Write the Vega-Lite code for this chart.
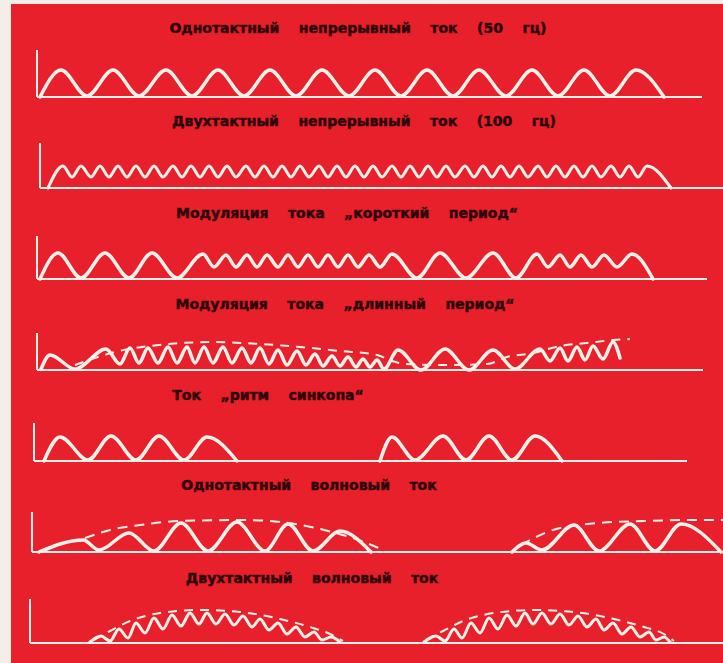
{
  "$schema": "https://vega.github.io/schema/vega-lite/v6.json",
  "background": "#f3eee6",
  "padding": {"left": 11, "top": 4, "right": 0, "bottom": 0},
  "spacing": 0,
  "bounds": "flush",
  "config": {
    "view": {"fill": "#e8202b", "stroke": null},
    "axis": {"disable": true},
    "text": {"font": "DejaVu Sans", "fontWeight": "bold", "fontSize": 14, "color": "#2e0609", "stroke": "#2e0609", "strokeWidth": 0.5, "align": "center", "baseline": "middle"}
  },
  "vconcat": [
    {
      "width": 712, "height": 102,
      "data": {"values": [
        {"t":40,"v":0,"k":"w","g":1},{"t":61,"v":27,"k":"w","g":1},{"t":87,"v":1,"k":"w","g":1},{"t":113,"v":27,"k":"w","g":1},
        {"t":139,"v":1,"k":"w","g":1},{"t":166,"v":27,"k":"w","g":1},{"t":192,"v":1,"k":"w","g":1},{"t":218,"v":27,"k":"w","g":1},
        {"t":244,"v":1,"k":"w","g":1},{"t":270,"v":27,"k":"w","g":1},{"t":296,"v":1,"k":"w","g":1},{"t":322,"v":27,"k":"w","g":1},
        {"t":349,"v":1,"k":"w","g":1},{"t":375,"v":27,"k":"w","g":1},{"t":401,"v":1,"k":"w","g":1},{"t":427,"v":27,"k":"w","g":1},
        {"t":453,"v":1,"k":"w","g":1},{"t":479,"v":27,"k":"w","g":1},{"t":506,"v":1,"k":"w","g":1},{"t":532,"v":27,"k":"w","g":1},
        {"t":558,"v":1,"k":"w","g":1},{"t":584,"v":27,"k":"w","g":1},{"t":610,"v":1,"k":"w","g":1},{"t":636,"v":27,"k":"w","g":1},
        {"t":664,"v":0,"k":"w","g":1}
      ]},
      "layer": [
        {"data": {"values": [{}]}, "mark": {"type": "rule", "color": "#fbf1ea", "strokeWidth": 2},
         "encoding": {"x": {"datum": 37, "type": "quantitative", "scale": {"domain": [11, 723], "nice": false, "zero": false}},
                      "y": {"datum": 0, "type": "quantitative", "scale": {"domain": [-9, 93], "nice": false, "zero": false}}, "y2": {"datum": 47}}},
        {"data": {"values": [{}]}, "mark": {"type": "rule", "color": "#fbf1ea", "strokeWidth": 2},
         "encoding": {"x": {"datum": 37, "type": "quantitative", "scale": {"domain": [11, 723], "nice": false, "zero": false}}, "x2": {"datum": 702},
                      "y": {"datum": 0, "type": "quantitative", "scale": {"domain": [-9, 93], "nice": false, "zero": false}}}},
        {"transform": [{"filter": "datum.k == 'w'"}],
         "mark": {"type": "line", "interpolate": "monotone", "color": "#fbf1ea", "strokeWidth": 3.5, "strokeCap": "round", "strokeJoin": "round"},
         "encoding": {"x": {"field": "t", "type": "quantitative", "scale": {"domain": [11, 723], "nice": false, "zero": false}},
                      "y": {"field": "v", "type": "quantitative", "scale": {"domain": [-9, 93], "nice": false, "zero": false}},
                      "detail": {"field": "g", "type": "nominal"}}},
        {"data": {"values": [{"label": "Однотактный \u00a0\u00a0 непрерывный \u00a0\u00a0 ток \u00a0\u00a0 (50 \u00a0\u00a0 гц)"}]},
         "mark": {"type": "text"},
         "encoding": {"x": {"datum": 358, "type": "quantitative", "scale": {"domain": [11, 723], "nice": false, "zero": false}},
                      "y": {"datum": 68, "type": "quantitative", "scale": {"domain": [-9, 93], "nice": false, "zero": false}},
                      "text": {"field": "label"}}}
      ]
    },
    {
      "width": 712, "height": 91,
      "data": {"values": [
        {"t":48,"v":0,"k":"w","g":1},{"t":63,"v":22,"k":"w","g":1},{"t":72,"v":11,"k":"w","g":1},{"t":81,"v":22,"k":"w","g":1},
        {"t":91,"v":11,"k":"w","g":1},{"t":100,"v":22,"k":"w","g":1},{"t":109,"v":11,"k":"w","g":1},{"t":118,"v":22,"k":"w","g":1},
        {"t":127,"v":11,"k":"w","g":1},{"t":136,"v":22,"k":"w","g":1},{"t":145,"v":11,"k":"w","g":1},{"t":154,"v":22,"k":"w","g":1},
        {"t":163,"v":11,"k":"w","g":1},{"t":173,"v":22,"k":"w","g":1},{"t":182,"v":11,"k":"w","g":1},{"t":191,"v":22,"k":"w","g":1},
        {"t":200,"v":11,"k":"w","g":1},{"t":209,"v":22,"k":"w","g":1},{"t":218,"v":11,"k":"w","g":1},{"t":227,"v":22,"k":"w","g":1},
        {"t":236,"v":11,"k":"w","g":1},{"t":246,"v":22,"k":"w","g":1},{"t":255,"v":11,"k":"w","g":1},{"t":264,"v":22,"k":"w","g":1},
        {"t":273,"v":11,"k":"w","g":1},{"t":282,"v":22,"k":"w","g":1},{"t":291,"v":11,"k":"w","g":1},{"t":300,"v":22,"k":"w","g":1},
        {"t":309,"v":11,"k":"w","g":1},{"t":319,"v":22,"k":"w","g":1},{"t":328,"v":11,"k":"w","g":1},{"t":337,"v":22,"k":"w","g":1},
        {"t":346,"v":11,"k":"w","g":1},{"t":355,"v":22,"k":"w","g":1},{"t":364,"v":11,"k":"w","g":1},{"t":373,"v":22,"k":"w","g":1},
        {"t":382,"v":11,"k":"w","g":1},{"t":392,"v":22,"k":"w","g":1},{"t":401,"v":11,"k":"w","g":1},{"t":410,"v":22,"k":"w","g":1},
        {"t":419,"v":11,"k":"w","g":1},{"t":428,"v":22,"k":"w","g":1},{"t":437,"v":11,"k":"w","g":1},{"t":446,"v":22,"k":"w","g":1},
        {"t":455,"v":11,"k":"w","g":1},{"t":465,"v":22,"k":"w","g":1},{"t":474,"v":11,"k":"w","g":1},{"t":483,"v":22,"k":"w","g":1},
        {"t":492,"v":11,"k":"w","g":1},{"t":501,"v":22,"k":"w","g":1},{"t":510,"v":11,"k":"w","g":1},{"t":519,"v":22,"k":"w","g":1},
        {"t":528,"v":11,"k":"w","g":1},{"t":538,"v":22,"k":"w","g":1},{"t":547,"v":11,"k":"w","g":1},{"t":556,"v":22,"k":"w","g":1},
        {"t":565,"v":11,"k":"w","g":1},{"t":574,"v":22,"k":"w","g":1},{"t":583,"v":11,"k":"w","g":1},{"t":592,"v":22,"k":"w","g":1},
        {"t":601,"v":11,"k":"w","g":1},{"t":611,"v":22,"k":"w","g":1},{"t":620,"v":11,"k":"w","g":1},{"t":629,"v":22,"k":"w","g":1},
        {"t":638,"v":11,"k":"w","g":1},{"t":647,"v":22,"k":"w","g":1},{"t":671,"v":0,"k":"w","g":1}
      ]},
      "layer": [
        {"data": {"values": [{}]}, "mark": {"type": "rule", "color": "#fbf1ea", "strokeWidth": 2},
         "encoding": {"x": {"datum": 40, "type": "quantitative", "scale": {"domain": [11, 723], "nice": false, "zero": false}},
                      "y": {"datum": 0, "type": "quantitative", "scale": {"domain": [-9, 82], "nice": false, "zero": false}}, "y2": {"datum": 45}}},
        {"data": {"values": [{}]}, "mark": {"type": "rule", "color": "#fbf1ea", "strokeWidth": 2},
         "encoding": {"x": {"datum": 40, "type": "quantitative", "scale": {"domain": [11, 723], "nice": false, "zero": false}}, "x2": {"datum": 723},
                      "y": {"datum": 0, "type": "quantitative", "scale": {"domain": [-9, 82], "nice": false, "zero": false}}}},
        {"transform": [{"filter": "datum.k == 'w'"}],
         "mark": {"type": "line", "interpolate": "monotone", "color": "#fbf1ea", "strokeWidth": 3, "strokeCap": "round", "strokeJoin": "round"},
         "encoding": {"x": {"field": "t", "type": "quantitative", "scale": {"domain": [11, 723], "nice": false, "zero": false}},
                      "y": {"field": "v", "type": "quantitative", "scale": {"domain": [-9, 82], "nice": false, "zero": false}},
                      "detail": {"field": "g", "type": "nominal"}}},
        {"data": {"values": [{"label": "Двухтактный \u00a0\u00a0 непрерывный \u00a0\u00a0 ток \u00a0\u00a0 (100 \u00a0\u00a0 гц)"}]},
         "mark": {"type": "text"},
         "encoding": {"x": {"datum": 364, "type": "quantitative", "scale": {"domain": [11, 723], "nice": false, "zero": false}},
                      "y": {"datum": 66, "type": "quantitative", "scale": {"domain": [-9, 82], "nice": false, "zero": false}},
                      "text": {"field": "label"}}}
      ]
    },
    {
      "width": 712, "height": 91,
      "data": {"values": [
        {"t":40,"v":0,"k":"w","g":1},{"t":58,"v":26,"k":"w","g":1},{"t":81,"v":1,"k":"w","g":1},{"t":105,"v":26,"k":"w","g":1},
        {"t":129,"v":1,"k":"w","g":1},{"t":152,"v":26,"k":"w","g":1},{"t":177,"v":1,"k":"w","g":1},{"t":203,"v":25,"k":"w","g":1},
        {"t":214,"v":12,"k":"w","g":1},{"t":226,"v":24,"k":"w","g":1},{"t":236,"v":12,"k":"w","g":1},{"t":247,"v":24,"k":"w","g":1},
        {"t":257,"v":12,"k":"w","g":1},{"t":267,"v":24,"k":"w","g":1},{"t":278,"v":12,"k":"w","g":1},{"t":288,"v":24,"k":"w","g":1},
        {"t":298,"v":12,"k":"w","g":1},{"t":308,"v":24,"k":"w","g":1},{"t":318,"v":12,"k":"w","g":1},{"t":328,"v":24,"k":"w","g":1},
        {"t":338,"v":12,"k":"w","g":1},{"t":348,"v":24,"k":"w","g":1},{"t":358,"v":12,"k":"w","g":1},{"t":369,"v":24,"k":"w","g":1},
        {"t":380,"v":12,"k":"w","g":1},{"t":392,"v":25,"k":"w","g":1},{"t":417,"v":1,"k":"w","g":1},{"t":440,"v":26,"k":"w","g":1},
        {"t":466,"v":1,"k":"w","g":1},{"t":493,"v":26,"k":"w","g":1},{"t":516,"v":1,"k":"w","g":1},{"t":537,"v":25,"k":"w","g":1},
        {"t":548,"v":12,"k":"w","g":1},{"t":560,"v":24,"k":"w","g":1},{"t":570,"v":12,"k":"w","g":1},{"t":581,"v":24,"k":"w","g":1},
        {"t":592,"v":12,"k":"w","g":1},{"t":604,"v":24,"k":"w","g":1},{"t":617,"v":12,"k":"w","g":1},{"t":632,"v":25,"k":"w","g":1},
        {"t":653,"v":0,"k":"w","g":1}
      ]},
      "layer": [
        {"data": {"values": [{}]}, "mark": {"type": "rule", "color": "#fbf1ea", "strokeWidth": 2},
         "encoding": {"x": {"datum": 37, "type": "quantitative", "scale": {"domain": [11, 723], "nice": false, "zero": false}},
                      "y": {"datum": 0, "type": "quantitative", "scale": {"domain": [-9, 82], "nice": false, "zero": false}}, "y2": {"datum": 43}}},
        {"data": {"values": [{}]}, "mark": {"type": "rule", "color": "#fbf1ea", "strokeWidth": 2},
         "encoding": {"x": {"datum": 37, "type": "quantitative", "scale": {"domain": [11, 723], "nice": false, "zero": false}}, "x2": {"datum": 707},
                      "y": {"datum": 0, "type": "quantitative", "scale": {"domain": [-9, 82], "nice": false, "zero": false}}}},
        {"transform": [{"filter": "datum.k == 'w'"}],
         "mark": {"type": "line", "interpolate": "monotone", "color": "#fbf1ea", "strokeWidth": 3.5, "strokeCap": "round", "strokeJoin": "round"},
         "encoding": {"x": {"field": "t", "type": "quantitative", "scale": {"domain": [11, 723], "nice": false, "zero": false}},
                      "y": {"field": "v", "type": "quantitative", "scale": {"domain": [-9, 82], "nice": false, "zero": false}},
                      "detail": {"field": "g", "type": "nominal"}}},
        {"data": {"values": [{"label": "Модуляция \u00a0\u00a0 тока \u00a0\u00a0 „короткий \u00a0\u00a0 период“"}]},
         "mark": {"type": "text"},
         "encoding": {"x": {"datum": 347, "type": "quantitative", "scale": {"domain": [11, 723], "nice": false, "zero": false}},
                      "y": {"datum": 65, "type": "quantitative", "scale": {"domain": [-9, 82], "nice": false, "zero": false}},
                      "text": {"field": "label"}}}
      ]
    },
    {
      "width": 712, "height": 91,
      "data": {"values": [
        {"t":41,"v":1,"k":"w","g":1},{"t":50,"v":15,"k":"w","g":1},{"t":75,"v":1,"k":"w","g":1},{"t":106,"v":21,"k":"w","g":1},
        {"t":120,"v":6,"k":"w","g":1},{"t":130,"v":22,"k":"w","g":1},{"t":139,"v":7,"k":"w","g":1},{"t":148,"v":22,"k":"w","g":1},
        {"t":158,"v":7,"k":"w","g":1},{"t":168,"v":23,"k":"w","g":1},{"t":177,"v":7,"k":"w","g":1},{"t":187,"v":23,"k":"w","g":1},
        {"t":195,"v":7,"k":"w","g":1},{"t":204,"v":23,"k":"w","g":1},{"t":213,"v":7,"k":"w","g":1},{"t":223,"v":23,"k":"w","g":1},
        {"t":232,"v":7,"k":"w","g":1},{"t":242,"v":22,"k":"w","g":1},{"t":251,"v":7,"k":"w","g":1},{"t":260,"v":22,"k":"w","g":1},
        {"t":269,"v":6,"k":"w","g":1},{"t":278,"v":20,"k":"w","g":1},{"t":287,"v":5,"k":"w","g":1},{"t":297,"v":19,"k":"w","g":1},
        {"t":306,"v":5,"k":"w","g":1},{"t":315,"v":16,"k":"w","g":1},{"t":323,"v":4,"k":"w","g":1},{"t":332,"v":14,"k":"w","g":1},
        {"t":340,"v":4,"k":"w","g":1},{"t":348,"v":13,"k":"w","g":1},{"t":356,"v":3,"k":"w","g":1},{"t":363,"v":11,"k":"w","g":1},
        {"t":370,"v":3,"k":"w","g":1},{"t":377,"v":10,"k":"w","g":1},{"t":384,"v":1,"k":"w","g":1},{"t":398,"v":20,"k":"w","g":1},
        {"t":421,"v":0,"k":"w","g":1},{"t":445,"v":21,"k":"w","g":1},{"t":469,"v":0,"k":"w","g":1},{"t":493,"v":20,"k":"w","g":1},
        {"t":515,"v":1,"k":"w","g":1},{"t":540,"v":21,"k":"w","g":1},{"t":550,"v":9,"k":"w","g":1},{"t":560,"v":22,"k":"w","g":1},
        {"t":568,"v":9,"k":"w","g":1},{"t":577,"v":23,"k":"w","g":1},{"t":585,"v":10,"k":"w","g":1},{"t":593,"v":24,"k":"w","g":1},
        {"t":603,"v":11,"k":"w","g":1},{"t":613,"v":28,"k":"w","g":1},{"t":620,"v":12,"k":"w","g":1},
        {"t":75,"v":5,"k":"e","g":2},{"t":95,"v":12,"k":"e","g":2},{"t":115,"v":18,"k":"e","g":2},{"t":150,"v":24,"k":"e","g":2},
        {"t":213,"v":28,"k":"e","g":2},{"t":260,"v":26,"k":"e","g":2},{"t":300,"v":23,"k":"e","g":2},{"t":340,"v":19,"k":"e","g":2},
        {"t":377,"v":15,"k":"e","g":2},{"t":392,"v":9,"k":"e","g":2},{"t":405,"v":6,"k":"e","g":2},{"t":445,"v":5,"k":"e","g":2},
        {"t":487,"v":6,"k":"e","g":2},{"t":507,"v":13,"k":"e","g":2},{"t":533,"v":17,"k":"e","g":2},{"t":560,"v":24,"k":"e","g":2},
        {"t":587,"v":27,"k":"e","g":2},{"t":613,"v":30,"k":"e","g":2},{"t":630,"v":31,"k":"e","g":2}
      ]},
      "layer": [
        {"data": {"values": [{}]}, "mark": {"type": "rule", "color": "#fbf1ea", "strokeWidth": 2},
         "encoding": {"x": {"datum": 37, "type": "quantitative", "scale": {"domain": [11, 723], "nice": false, "zero": false}},
                      "y": {"datum": 0, "type": "quantitative", "scale": {"domain": [-9, 82], "nice": false, "zero": false}}, "y2": {"datum": 37}}},
        {"data": {"values": [{}]}, "mark": {"type": "rule", "color": "#fbf1ea", "strokeWidth": 2},
         "encoding": {"x": {"datum": 37, "type": "quantitative", "scale": {"domain": [11, 723], "nice": false, "zero": false}}, "x2": {"datum": 703},
                      "y": {"datum": 0, "type": "quantitative", "scale": {"domain": [-9, 82], "nice": false, "zero": false}}}},
        {"transform": [{"filter": "datum.k == 'e'"}],
         "mark": {"type": "line", "interpolate": "monotone", "color": "#fbf1ea", "strokeWidth": 2, "strokeDash": [9, 7]},
         "encoding": {"x": {"field": "t", "type": "quantitative", "scale": {"domain": [11, 723], "nice": false, "zero": false}},
                      "y": {"field": "v", "type": "quantitative", "scale": {"domain": [-9, 82], "nice": false, "zero": false}},
                      "detail": {"field": "g", "type": "nominal"}}},
        {"transform": [{"filter": "datum.k == 'w'"}],
         "mark": {"type": "line", "interpolate": "monotone", "color": "#fbf1ea", "strokeWidth": 3.5, "strokeCap": "round", "strokeJoin": "round"},
         "encoding": {"x": {"field": "t", "type": "quantitative", "scale": {"domain": [11, 723], "nice": false, "zero": false}},
                      "y": {"field": "v", "type": "quantitative", "scale": {"domain": [-9, 82], "nice": false, "zero": false}},
                      "detail": {"field": "g", "type": "nominal"}}},
        {"data": {"values": [{"label": "Модуляция \u00a0\u00a0 тока \u00a0\u00a0 „длинный \u00a0\u00a0 период“"}]},
         "mark": {"type": "text"},
         "encoding": {"x": {"datum": 345, "type": "quantitative", "scale": {"domain": [11, 723], "nice": false, "zero": false}},
                      "y": {"datum": 65, "type": "quantitative", "scale": {"domain": [-9, 82], "nice": false, "zero": false}},
                      "text": {"field": "label"}}}
      ]
    },
    {
      "width": 712, "height": 91,
      "data": {"values": [
        {"t":44,"v":0,"k":"w","g":1},{"t":60,"v":24,"k":"w","g":1},{"t":88,"v":1,"k":"w","g":1},{"t":111,"v":25,"k":"w","g":1},
        {"t":136,"v":1,"k":"w","g":1},{"t":159,"v":25,"k":"w","g":1},{"t":184,"v":1,"k":"w","g":1},{"t":207,"v":24,"k":"w","g":1},
        {"t":237,"v":0,"k":"w","g":1},
        {"t":380,"v":0,"k":"w","g":2},{"t":392,"v":24,"k":"w","g":2},{"t":415,"v":1,"k":"w","g":2},{"t":443,"v":25,"k":"w","g":2},
        {"t":466,"v":1,"k":"w","g":2},{"t":489,"v":25,"k":"w","g":2},{"t":512,"v":1,"k":"w","g":2},{"t":535,"v":25,"k":"w","g":2},
        {"t":562,"v":0,"k":"w","g":2}
      ]},
      "layer": [
        {"data": {"values": [{}]}, "mark": {"type": "rule", "color": "#fbf1ea", "strokeWidth": 2},
         "encoding": {"x": {"datum": 34, "type": "quantitative", "scale": {"domain": [11, 723], "nice": false, "zero": false}},
                      "y": {"datum": 0, "type": "quantitative", "scale": {"domain": [-9, 82], "nice": false, "zero": false}}, "y2": {"datum": 38}}},
        {"data": {"values": [{}]}, "mark": {"type": "rule", "color": "#fbf1ea", "strokeWidth": 2},
         "encoding": {"x": {"datum": 34, "type": "quantitative", "scale": {"domain": [11, 723], "nice": false, "zero": false}}, "x2": {"datum": 687},
                      "y": {"datum": 0, "type": "quantitative", "scale": {"domain": [-9, 82], "nice": false, "zero": false}}}},
        {"transform": [{"filter": "datum.k == 'w'"}],
         "mark": {"type": "line", "interpolate": "monotone", "color": "#fbf1ea", "strokeWidth": 3.5, "strokeCap": "round", "strokeJoin": "round"},
         "encoding": {"x": {"field": "t", "type": "quantitative", "scale": {"domain": [11, 723], "nice": false, "zero": false}},
                      "y": {"field": "v", "type": "quantitative", "scale": {"domain": [-9, 82], "nice": false, "zero": false}},
                      "detail": {"field": "g", "type": "nominal"}}},
        {"data": {"values": [{"label": "Ток \u00a0\u00a0 „ритм \u00a0\u00a0 синкопа“"}]},
         "mark": {"type": "text"},
         "encoding": {"x": {"datum": 268, "type": "quantitative", "scale": {"domain": [11, 723], "nice": false, "zero": false}},
                      "y": {"datum": 65, "type": "quantitative", "scale": {"domain": [-9, 82], "nice": false, "zero": false}},
                      "text": {"field": "label"}}}
      ]
    },
    {
      "width": 712, "height": 91,
      "data": {"values": [
        {"t":39,"v":0,"k":"w","g":1},{"t":83,"v":12,"k":"w","g":1},{"t":99,"v":2,"k":"w","g":1},{"t":129,"v":19,"k":"w","g":1},
        {"t":154,"v":1,"k":"w","g":1},{"t":181,"v":29,"k":"w","g":1},{"t":208,"v":1,"k":"w","g":1},{"t":237,"v":30,"k":"w","g":1},
        {"t":265,"v":1,"k":"w","g":1},{"t":288,"v":28,"k":"w","g":1},{"t":313,"v":1,"k":"w","g":1},{"t":340,"v":21,"k":"w","g":1},
        {"t":371,"v":0,"k":"w","g":1},
        {"t":512,"v":0,"k":"w","g":2},{"t":526,"v":9,"k":"w","g":2},{"t":542,"v":2,"k":"w","g":2},{"t":574,"v":27,"k":"w","g":2},
        {"t":599,"v":1,"k":"w","g":2},{"t":630,"v":28,"k":"w","g":2},{"t":655,"v":1,"k":"w","g":2},{"t":681,"v":28,"k":"w","g":2},
        {"t":721,"v":0,"k":"w","g":2},
        {"t":85,"v":14,"k":"e","g":3},{"t":110,"v":22,"k":"e","g":3},{"t":140,"v":27,"k":"e","g":3},{"t":180,"v":31,"k":"e","g":3},
        {"t":244,"v":32,"k":"e","g":3},{"t":295,"v":28,"k":"e","g":3},{"t":332,"v":20,"k":"e","g":3},{"t":364,"v":10,"k":"e","g":3},
        {"t":383,"v":2,"k":"e","g":3},
        {"t":521,"v":7,"k":"e","g":4},{"t":553,"v":22,"k":"e","g":4},{"t":599,"v":29,"k":"e","g":4},{"t":645,"v":31,"k":"e","g":4},
        {"t":690,"v":32,"k":"e","g":4},{"t":723,"v":32,"k":"e","g":4}
      ]},
      "layer": [
        {"data": {"values": [{}]}, "mark": {"type": "rule", "color": "#fbf1ea", "strokeWidth": 2},
         "encoding": {"x": {"datum": 32, "type": "quantitative", "scale": {"domain": [11, 723], "nice": false, "zero": false}},
                      "y": {"datum": 0, "type": "quantitative", "scale": {"domain": [-9, 82], "nice": false, "zero": false}}, "y2": {"datum": 40}}},
        {"data": {"values": [{}]}, "mark": {"type": "rule", "color": "#fbf1ea", "strokeWidth": 2},
         "encoding": {"x": {"datum": 32, "type": "quantitative", "scale": {"domain": [11, 723], "nice": false, "zero": false}}, "x2": {"datum": 723},
                      "y": {"datum": 0, "type": "quantitative", "scale": {"domain": [-9, 82], "nice": false, "zero": false}}}},
        {"transform": [{"filter": "datum.k == 'e'"}],
         "mark": {"type": "line", "interpolate": "monotone", "color": "#fbf1ea", "strokeWidth": 2, "strokeDash": [10, 7]},
         "encoding": {"x": {"field": "t", "type": "quantitative", "scale": {"domain": [11, 723], "nice": false, "zero": false}},
                      "y": {"field": "v", "type": "quantitative", "scale": {"domain": [-9, 82], "nice": false, "zero": false}},
                      "detail": {"field": "g", "type": "nominal"}}},
        {"transform": [{"filter": "datum.k == 'w'"}],
         "mark": {"type": "line", "interpolate": "monotone", "color": "#fbf1ea", "strokeWidth": 3.5, "strokeCap": "round", "strokeJoin": "round"},
         "encoding": {"x": {"field": "t", "type": "quantitative", "scale": {"domain": [11, 723], "nice": false, "zero": false}},
                      "y": {"field": "v", "type": "quantitative", "scale": {"domain": [-9, 82], "nice": false, "zero": false}},
                      "detail": {"field": "g", "type": "nominal"}}},
        {"data": {"values": [{"label": "Однотактный \u00a0\u00a0 волновый \u00a0\u00a0 ток"}]},
         "mark": {"type": "text"},
         "encoding": {"x": {"datum": 309, "type": "quantitative", "scale": {"domain": [11, 723], "nice": false, "zero": false}},
                      "y": {"datum": 66, "type": "quantitative", "scale": {"domain": [-9, 82], "nice": false, "zero": false}},
                      "text": {"field": "label"}}}
      ]
    },
    {
      "width": 712, "height": 102,
      "data": {"values": [
        {"t":90,"v":1,"k":"w","g":1},{"t":101,"v":7,"k":"w","g":1},{"t":110,"v":2,"k":"w","g":1},{"t":119,"v":14,"k":"w","g":1},
        {"t":128,"v":5,"k":"w","g":1},{"t":136,"v":20,"k":"w","g":1},{"t":145,"v":10,"k":"w","g":1},{"t":154,"v":25,"k":"w","g":1},
        {"t":163,"v":14,"k":"w","g":1},{"t":172,"v":28,"k":"w","g":1},{"t":181,"v":17,"k":"w","g":1},{"t":190,"v":30,"k":"w","g":1},
        {"t":199,"v":19,"k":"w","g":1},{"t":207,"v":30,"k":"w","g":1},{"t":216,"v":19,"k":"w","g":1},{"t":225,"v":29,"k":"w","g":1},
        {"t":234,"v":18,"k":"w","g":1},{"t":243,"v":27,"k":"w","g":1},{"t":252,"v":16,"k":"w","g":1},{"t":260,"v":24,"k":"w","g":1},
        {"t":269,"v":13,"k":"w","g":1},{"t":278,"v":20,"k":"w","g":1},{"t":287,"v":9,"k":"w","g":1},{"t":296,"v":16,"k":"w","g":1},
        {"t":305,"v":6,"k":"w","g":1},{"t":314,"v":11,"k":"w","g":1},{"t":322,"v":3,"k":"w","g":1},{"t":331,"v":6,"k":"w","g":1},
        {"t":340,"v":1,"k":"w","g":1},
        {"t":424,"v":1,"k":"w","g":2},{"t":436,"v":7,"k":"w","g":2},{"t":445,"v":2,"k":"w","g":2},{"t":454,"v":14,"k":"w","g":2},
        {"t":462,"v":5,"k":"w","g":2},{"t":471,"v":20,"k":"w","g":2},{"t":480,"v":10,"k":"w","g":2},{"t":489,"v":25,"k":"w","g":2},
        {"t":498,"v":14,"k":"w","g":2},{"t":507,"v":28,"k":"w","g":2},{"t":516,"v":17,"k":"w","g":2},{"t":525,"v":30,"k":"w","g":2},
        {"t":533,"v":19,"k":"w","g":2},{"t":542,"v":30,"k":"w","g":2},{"t":551,"v":19,"k":"w","g":2},{"t":560,"v":29,"k":"w","g":2},
        {"t":569,"v":18,"k":"w","g":2},{"t":578,"v":27,"k":"w","g":2},{"t":587,"v":16,"k":"w","g":2},{"t":596,"v":24,"k":"w","g":2},
        {"t":604,"v":13,"k":"w","g":2},{"t":613,"v":20,"k":"w","g":2},{"t":622,"v":9,"k":"w","g":2},{"t":631,"v":16,"k":"w","g":2},
        {"t":640,"v":6,"k":"w","g":2},{"t":649,"v":11,"k":"w","g":2},{"t":656,"v":3,"k":"w","g":2},{"t":664,"v":6,"k":"w","g":2},
        {"t":670,"v":1,"k":"w","g":2},
        {"t":94,"v":3,"k":"e","g":3},{"t":110,"v":12,"k":"e","g":3},{"t":130,"v":22,"k":"e","g":3},{"t":160,"v":30,"k":"e","g":3},
        {"t":200,"v":33,"k":"e","g":3},{"t":240,"v":31,"k":"e","g":3},{"t":280,"v":24,"k":"e","g":3},{"t":310,"v":16,"k":"e","g":3},
        {"t":330,"v":9,"k":"e","g":3},{"t":343,"v":2,"k":"e","g":3},
        {"t":426,"v":3,"k":"e","g":4},{"t":443,"v":12,"k":"e","g":4},{"t":463,"v":22,"k":"e","g":4},{"t":494,"v":30,"k":"e","g":4},
        {"t":534,"v":33,"k":"e","g":4},{"t":574,"v":31,"k":"e","g":4},{"t":614,"v":24,"k":"e","g":4},{"t":644,"v":16,"k":"e","g":4},
        {"t":664,"v":9,"k":"e","g":4},{"t":674,"v":2,"k":"e","g":4}
      ]},
      "layer": [
        {"data": {"values": [{}]}, "mark": {"type": "rule", "color": "#fbf1ea", "strokeWidth": 2},
         "encoding": {"x": {"datum": 30, "type": "quantitative", "scale": {"domain": [11, 723], "nice": false, "zero": false}},
                      "y": {"datum": 0, "type": "quantitative", "scale": {"domain": [-20, 82], "nice": false, "zero": false}}, "y2": {"datum": 44}}},
        {"data": {"values": [{}]}, "mark": {"type": "rule", "color": "#fbf1ea", "strokeWidth": 2},
         "encoding": {"x": {"datum": 30, "type": "quantitative", "scale": {"domain": [11, 723], "nice": false, "zero": false}}, "x2": {"datum": 723},
                      "y": {"datum": 0, "type": "quantitative", "scale": {"domain": [-20, 82], "nice": false, "zero": false}}}},
        {"transform": [{"filter": "datum.k == 'e'"}],
         "mark": {"type": "line", "interpolate": "monotone", "color": "#fbf1ea", "strokeWidth": 2, "strokeDash": [9, 7]},
         "encoding": {"x": {"field": "t", "type": "quantitative", "scale": {"domain": [11, 723], "nice": false, "zero": false}},
                      "y": {"field": "v", "type": "quantitative", "scale": {"domain": [-20, 82], "nice": false, "zero": false}},
                      "detail": {"field": "g", "type": "nominal"}}},
        {"transform": [{"filter": "datum.k == 'w'"}],
         "mark": {"type": "line", "interpolate": "monotone", "color": "#fbf1ea", "strokeWidth": 3, "strokeCap": "round", "strokeJoin": "round"},
         "encoding": {"x": {"field": "t", "type": "quantitative", "scale": {"domain": [11, 723], "nice": false, "zero": false}},
                      "y": {"field": "v", "type": "quantitative", "scale": {"domain": [-20, 82], "nice": false, "zero": false}},
                      "detail": {"field": "g", "type": "nominal"}}},
        {"data": {"values": [{"label": "Двухтактный \u00a0\u00a0 волновый \u00a0\u00a0 ток"}]},
         "mark": {"type": "text"},
         "encoding": {"x": {"datum": 312, "type": "quantitative", "scale": {"domain": [11, 723], "nice": false, "zero": false}},
                      "y": {"datum": 64, "type": "quantitative", "scale": {"domain": [-20, 82], "nice": false, "zero": false}},
                      "text": {"field": "label"}}}
      ]
    }
  ]
}
